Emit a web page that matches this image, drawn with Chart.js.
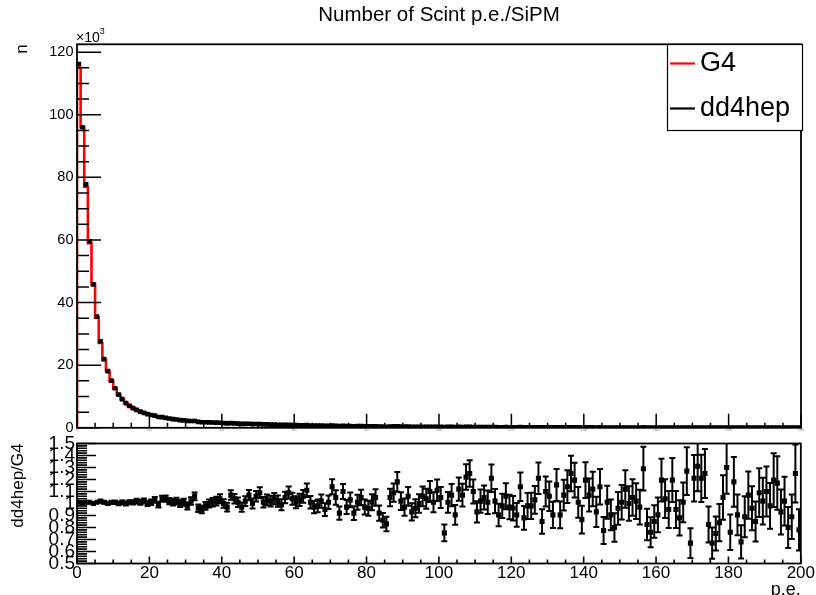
<!DOCTYPE html>
<html><head><meta charset="utf-8">
<script src="https://cdn.jsdelivr.net/npm/chart.js@4.4.1/dist/chart.umd.min.js"></script>
<style>
html,body{margin:0;padding:0;background:#fff;overflow:hidden;width:816px;height:595px}
#top{position:absolute;left:0;top:0;width:816px;height:440px}
#bot{position:absolute;left:0;top:432px;width:816px;height:168px;background:#fff}
</style></head><body>
<div id="top"><canvas id="c1"></canvas></div>
<div id="bot"><canvas id="c2"></canvas></div>
<script>
// ---------------- data ----------------
const binLow = 0;
const binWidth = 1;
// G4 counts per bin, in units of 10^3
const g4CountsK = [
115.0,96.0,77.0,59.0,45.8,35.2,27.1,21.7,18.1,14.9,
12.5,10.6,9.05,7.9,6.95,6.2,5.6,5.12,4.7,4.36,
4.04,3.76,3.49,3.28,3.07,2.91,2.74,2.6,2.46,2.35,
2.25,2.13,2.05,1.97,1.88,1.8,1.74,1.67,1.62,1.56,
1.51,1.46,1.42,1.37,1.33,1.29,1.24,1.21,1.17,1.14,
1.10,1.07,1.04,1.01,0.98,0.955,0.92,0.9,0.87,0.845,
0.82,0.8,0.775,0.755,0.735,0.715,0.695,0.68,0.655,0.64,
0.62,0.605,0.59,0.575,0.56,0.545,0.53,0.515,0.5,0.49,
0.475,0.465,0.45,0.44,0.43,0.415,0.405,0.395,0.385,0.375,
0.365,0.355,0.345,0.34,0.33,0.32,0.31,0.305,0.295,0.29,
0.28,0.275,0.27,0.26,0.255,0.25,0.245,0.24,0.235,0.23,
0.225,0.22,0.215,0.21,0.205,0.2,0.196,0.192,0.188,0.184,
0.18,0.176,0.172,0.168,0.165,0.161,0.158,0.155,0.152,0.149,
0.146,0.143,0.14,0.137,0.134,0.131,0.129,0.126,0.124,0.121,
0.119,0.117,0.115,0.113,0.111,0.109,0.107,0.105,0.103,0.101,
0.099,0.097,0.096,0.094,0.092,0.091,0.089,0.088,0.086,0.085,
0.083,0.082,0.081,0.079,0.078,0.077,0.076,0.074,0.073,0.072,
0.071,0.07,0.069,0.068,0.067,0.066,0.065,0.064,0.063,0.062,
0.061,0.06,0.06,0.059,0.058,0.057,0.056,0.056,0.055,0.054,
0.053,0.053,0.052,0.051,0.051,0.05,0.049,0.049,0.048,0.047
];
// dd4hep / G4 ratio per bin
const ratioValues = [
1.01,1.00,1.01,1.01,1.00,1.01,1.02,1.01,1.00,1.01,
1.01,1.00,1.01,1.00,1.01,1.01,1.02,1.01,1.02,1.00,
1.01,1.03,0.99,1.04,1.04,1.02,1.01,1.02,1.00,1.01,
0.98,1.02,1.06,0.96,0.95,0.98,1.00,1.01,1.02,1.04,
1.00,0.97,1.07,1.04,1.01,0.97,1.02,1.07,1.00,1.06,
1.09,1.01,1.03,1.02,1.04,1.02,0.99,1.05,1.09,1.04,
1.01,1.03,1.06,1.11,1.01,0.97,0.98,1.02,0.95,1.01,
1.14,1.05,0.92,1.10,0.97,1.03,0.92,1.01,1.05,0.97,
0.96,1.01,1.05,0.92,0.86,0.83,1.05,1.09,1.18,1.02,
0.97,1.06,0.93,0.96,1.00,1.06,1.04,1.10,1.01,1.11,
1.05,0.755,1.01,1.07,0.905,1.12,1.07,1.22,1.25,1.10,
0.93,1.02,1.05,1.01,1.21,1.02,0.905,0.98,1.06,0.97,
0.96,0.905,1.14,0.88,0.98,0.98,1.03,1.21,0.85,1.10,
1.06,0.905,1.155,0.905,1.07,1.14,1.25,1.195,1.01,0.866,
1.195,1.07,1.12,0.93,1.14,0.775,1.01,0.905,0.80,0.96,
1.01,1.12,1.00,1.05,1.02,0.97,1.29,0.825,0.76,0.85,
0.905,1.195,1.04,0.95,1.195,0.95,0.88,1.01,1.27,0.67,
1.21,1.31,1.21,1.25,0.825,0.67,0.75,0.84,1.05,1.30,
0.76,1.18,0.905,0.68,0.89,1.07,0.96,0.85,1.09,1.02,
1.10,0.98,1.195,1.17,0.93,1.02,0.80,0.89,1.25,0.78
];
const xTicks = [0,20,40,60,80,100,120,140,160,180,200];
const xTickLabels = ['0','20','40','60','80','100','120','140','160','180','200'];
const yTicksTop = [0,20,40,60,80,100,120];
const yTickLabelsTop = ['0','20','40','60','80','100','120'];
const yTicksRatio = [0.5,0.6,0.7,0.8,0.9,1,1.1,1.2,1.3,1.4,1.5];
const yTickLabelsRatio = ['0.5','0.6','0.7','0.8','0.9','1','1.1','1.2','1.3','1.4','1.5'];

// ---------------- derived ----------------
const nBins = g4CountsK.length;
const centers = g4CountsK.map((_, i) => binLow + (i + 0.5) * binWidth);
const dd4hepCountsK = g4CountsK.map((v, i) => v * ratioValues[i]);
// Poisson errors
const dd4hepErrK = dd4hepCountsK.map(v => Math.sqrt(v * 1000) / 1000);
const ratioErr = ratioValues.map((r, i) => r * Math.sqrt(1 / (g4CountsK[i] * 1000) + 1 / (dd4hepCountsK[i] * 1000)));
const g4Step = [{x: binLow, y: 0}];
g4CountsK.forEach((v, i) => g4Step.push({x: binLow + i * binWidth, y: v}));
g4Step.push({x: binLow + nBins * binWidth, y: g4CountsK[nBins - 1]});

const FONT = "'Liberation Sans', Arial, Helvetica, sans-serif";
Chart.defaults.font.family = FONT;
Chart.defaults.color = '#000';

function range(a, b, s) { const r = []; for (let v = a; v <= b + 1e-9; v += s) r.push(+v.toFixed(6)); return r; }

// ROOT-like frame with inward ticks
const rootFrame = {
  id: 'rootFrame',
  afterDatasetsDraw(chart, args, o) {
    const {ctx, chartArea: a, scales: {x, y}} = chart;
    ctx.save();
    ctx.strokeStyle = '#000';
    ctx.lineWidth = o.tickWidth;
    ctx.beginPath();
    const xt = (vals, len) => vals.forEach(v => { const p = x.getPixelForValue(v); ctx.moveTo(p, a.bottom); ctx.lineTo(p, a.bottom - len); });
    const yt = (vals, len) => vals.forEach(v => { const p = y.getPixelForValue(v); ctx.moveTo(a.left, p); ctx.lineTo(a.left + len, p); });
    xt(o.xMinor, o.xMinorLen); xt(o.xMajor, o.xMajorLen);
    yt(o.yMinor, o.yMinorLen); yt(o.yMajor, o.yMajorLen);
    ctx.stroke();
    ctx.lineWidth = 1.8;
    ctx.strokeRect(a.left, a.top, a.right - a.left, a.bottom - a.top);
    ctx.restore();
  }
};

const errorBars = {
  id: 'errorBars',
  afterDatasetsDraw(chart, args, o) {
    const {ctx, chartArea: a, scales: {x, y}} = chart;
    const ds = chart.data.datasets[o.datasetIndex];
    ctx.save();
    ctx.beginPath(); ctx.rect(a.left, a.top, a.right - a.left, a.bottom - a.top); ctx.clip();
    ctx.strokeStyle = '#000'; ctx.lineWidth = o.lineWidth;
    ctx.beginPath();
    ds.data.forEach((p, i) => {
      const e = o.errors[i];
      const px = x.getPixelForValue(p.x), py = y.getPixelForValue(p.y);
      const x0 = x.getPixelForValue(p.x - binWidth / 2), x1 = x.getPixelForValue(p.x + binWidth / 2);
      const yT = y.getPixelForValue(p.y + e), yB = y.getPixelForValue(p.y - e);
      ctx.moveTo(x0, py); ctx.lineTo(x1, py);
      if (yB - yT > 2) {
        ctx.moveTo(px, yT); ctx.lineTo(px, yB);
        if (o.cap) {
          ctx.moveTo(px - o.cap, yT); ctx.lineTo(px + o.cap, yT);
          ctx.moveTo(px - o.cap, yB); ctx.lineTo(px + o.cap, yB);
        }
      }
    });
    ctx.stroke();
    ctx.restore();
  }
};

const rootLegend = {
  id: 'rootLegend',
  afterDraw(chart, args, o) {
    const ctx = chart.ctx;
    ctx.save();
    ctx.fillStyle = '#fff'; ctx.fillRect(o.x, o.y, o.w, o.h);
    ctx.strokeStyle = '#000'; ctx.lineWidth = 1.2; ctx.strokeRect(o.x + 0.5, o.y + 0.5, o.w, o.h);
    o.items.forEach(it => {
      const ds = chart.data.datasets[it.index];
      ctx.strokeStyle = it.color; ctx.lineWidth = 2.2;
      ctx.beginPath(); ctx.moveTo(o.x + 3, it.y); ctx.lineTo(o.x + 28, it.y); ctx.stroke();
      ctx.fillStyle = '#000'; ctx.font = o.fontSize + 'px ' + FONT; ctx.textBaseline = 'middle'; ctx.textAlign = 'left';
      ctx.fillText(ds.label, o.x + 33, it.y);
    });
    ctx.restore();
  }
};

const expLabel = {
  id: 'expLabel',
  afterDraw(chart) {
    const {ctx, chartArea: a} = chart;
    ctx.save();
    ctx.fillStyle = '#000'; ctx.textBaseline = 'alphabetic'; ctx.textAlign = 'left';
    ctx.font = '14px ' + FONT;
    ctx.fillText('\u00d710', a.left - 1, a.top - 2.5);
    const w = ctx.measureText('\u00d710').width;
    ctx.font = '9px ' + FONT;
    ctx.fillText('3', a.left - 1 + w, a.top - 10.5);
    ctx.restore();
  }
};

// ---------------- top pad ----------------
new Chart(document.getElementById('c1'), {
  type: 'scatter',
  data: {
    datasets: [
      {label: 'G4', data: g4Step, showLine: true, stepped: true, borderColor: '#ff0000', borderWidth: 2.6,
       pointRadius: 0, fill: false, order: 2},
      {label: 'dd4hep', data: centers.map((c, i) => ({x: c, y: dd4hepCountsK[i]})), showLine: false,
       pointStyle: 'rect', pointRadius: 3.3, backgroundColor: '#000', borderWidth: 0, order: 1}
    ]
  },
  options: {
    responsive: true, maintainAspectRatio: false, animation: false,
    layout: {padding: {left: 0, right: 15, top: 0, bottom: 0}},
    plugins: {
      legend: {display: false}, tooltip: {enabled: false},
      title: {display: true, text: 'Number of Scint p.e./SiPM', fullSize: false, color: '#000',
        font: {size: 20.5, weight: 'normal', lineHeight: 1.2}, padding: {top: 3, bottom: 16.7}},
      rootFrame: {xMajor: xTicks, xMinor: range(0, 200, 5), xMajorLen: 14, xMinorLen: 5,
        yMajor: yTicksTop, yMinor: range(0, 120, 5), yMajorLen: 24, yMinorLen: 12, tickWidth: 1.5},
      errorBars: {datasetIndex: 1, errors: dd4hepErrK, lineWidth: 2, cap: 0},
      rootLegend: {x: 667, y: 44, w: 135, h: 86, fontSize: 27,
        items: [{index: 0, color: '#ff0000', y: 63.5}, {index: 1, color: '#000', y: 108.5}]}
    },
    scales: {
      x: {type: 'linear', min: 0, max: 200,
        afterBuildTicks: s => { s.ticks = xTicks.map(v => ({value: v})); },
        afterFit: s => { s.height = 11.5; },
        grid: {display: false, drawTicks: false}, border: {display: false},
        ticks: {autoSkip: false, maxRotation: 0, padding: 0, color: '#888', font: {size: 4, lineHeight: 1},
          callback: v => xTickLabels[xTicks.indexOf(v)]}},
      y: {type: 'linear', min: 0, max: 122.5,
        afterBuildTicks: s => { s.ticks = yTicksTop.map(v => ({value: v})); },
        afterFit: s => { s.width = 77; },
        grid: {display: false, drawTicks: false}, border: {display: false},
        title: {display: true, text: 'n', align: 'end', font: {size: 17, lineHeight: 1.2}, padding: {top: 12.5, bottom: 0}},
        ticks: {autoSkip: false, padding: 3.5, font: {size: 14.5},
          callback: v => yTickLabelsTop[yTicksTop.indexOf(v)]}}
    }
  },
  plugins: [errorBars, rootFrame, rootLegend, expLabel]
});

// ---------------- ratio pad ----------------
new Chart(document.getElementById('c2'), {
  type: 'scatter',
  data: {
    datasets: [
      {label: 'dd4hep/G4', data: centers.map((c, i) => ({x: c, y: ratioValues[i]})), showLine: false,
       pointStyle: 'rect', pointRadius: 3.6, backgroundColor: '#000', borderWidth: 0}
    ]
  },
  options: {
    responsive: true, maintainAspectRatio: false, animation: false,
    layout: {padding: {left: 0, right: 15, top: 4.5, bottom: 0}},
    plugins: {
      legend: {display: false}, tooltip: {enabled: false}, title: {display: false},
      rootFrame: {xMajor: xTicks, xMinor: range(0, 200, 5), xMajorLen: 7, xMinorLen: 4,
        yMajor: yTicksRatio, yMinor: range(0.5, 1.5, 0.02), yMajorLen: 19, yMinorLen: 10, tickWidth: 1.6},
      errorBars: {datasetIndex: 0, errors: ratioErr, lineWidth: 2, cap: 3}
    },
    scales: {
      x: {type: 'linear', min: 0, max: 200,
        afterBuildTicks: s => { s.ticks = xTicks.map(v => ({value: v})); },
        afterFit: s => { s.height = 36.5; },
        grid: {display: false, drawTicks: false}, border: {display: false},
        title: {display: true, text: 'p.e.', align: 'end', font: {size: 18, lineHeight: 1}, padding: {top: 0, bottom: 0.5}},
        ticks: {autoSkip: false, maxRotation: 0, padding: 1, font: {size: 17, lineHeight: 1},
          callback: v => xTickLabels[xTicks.indexOf(v)]}},
      y: {type: 'linear', min: 0.5, max: 1.5,
        afterBuildTicks: s => { s.ticks = yTicksRatio.map(v => ({value: v})); },
        afterFit: s => { s.width = 77; },
        grid: {display: false, drawTicks: false}, border: {display: false},
        title: {display: true, text: 'dd4hep/G4', align: 'end', font: {size: 17, lineHeight: 1.2}, padding: {top: 8.5, bottom: 0}},
        ticks: {autoSkip: false, padding: 2, font: {size: 19, lineHeight: 1},
          callback: v => yTickLabelsRatio[yTicksRatio.indexOf(v)]}}
    }
  },
  plugins: [errorBars, rootFrame]
});
</script></body></html>
